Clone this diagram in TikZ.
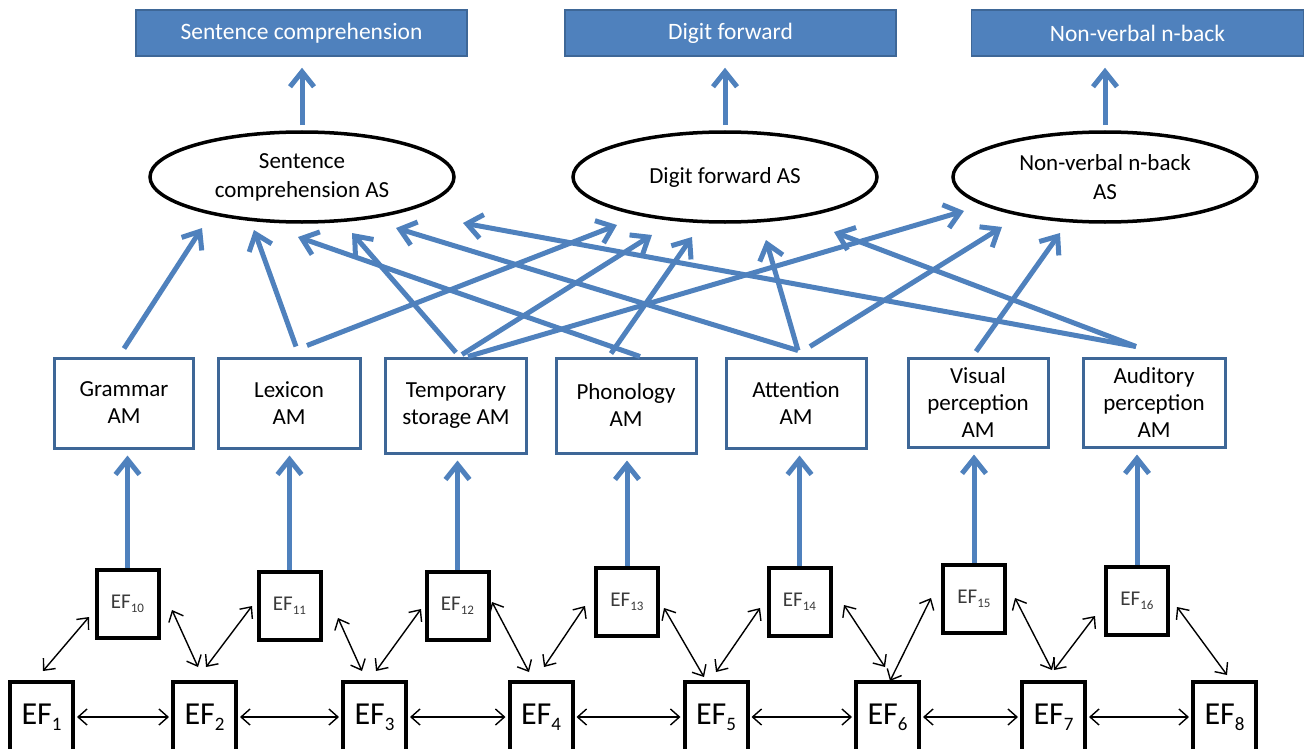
\documentclass[tikz,border=0pt]{standalone}
\usepackage{fontspec}
\setmainfont{Carlito}
\usetikzlibrary{arrows.meta,calc,shapes.geometric}

\definecolor{offblue}{HTML}{4F81BD}
\definecolor{edgeblue}{HTML}{3E6797}
\definecolor{efgray}{HTML}{3A3A3A}

% subscripted factor labels
\newcommand{\eflow}[1]{EF\raisebox{-6pt}{\fontsize{19}{19}\selectfont #1}}
\newcommand{\efup}[1]{EF\raisebox{-4pt}{\fontsize{13}{13}\selectfont #1}}

\tikzset{
  task/.style={draw=edgeblue, line width=1.5pt, fill=offblue, text=white,
    minimum width=331pt, minimum height=46pt, inner sep=0pt,
    font=\fontsize{23.5}{28}\selectfont},
  score/.style={ellipse, draw=black, line width=3.5pt, fill=white,
    minimum width=304pt, minimum height=90pt, inner sep=0pt, align=center,
    font=\fontsize{23}{29}\selectfont},
  module/.style={draw=edgeblue, line width=3pt, fill=white, inner sep=0pt,
    align=center, minimum width=141pt, minimum height=90pt,
    font=\fontsize{23}{27}\selectfont},
  factorup/.style={draw=black, line width=4pt, fill=white, inner sep=0pt,
    minimum width=62pt, minimum height=68pt, text=efgray,
    font=\fontsize{21}{21}\selectfont},
  factorlow/.style={draw=black, line width=4pt, fill=white, inner sep=0pt,
    minimum width=63pt, minimum height=70pt,
    font=\fontsize{32}{32}\selectfont},
  bluelink/.style={draw=offblue, line width=5pt,
    -{Straight Barb[length=15pt,width=24pt]}},
  eflink/.style={draw=black, line width=1.4pt,
    {Straight Barb[length=9pt,width=16pt]}-{Straight Barb[length=9pt,width=16pt]}}
}

\begin{document}
\begin{tikzpicture}[x=1pt,y=1pt]
\useasboundingbox (0,0) rectangle (1306,-749);

% observed tasks
\node[task] (t1) at (301.5,-33) {Sentence comprehension};
\node[task] (t2) at (730.5,-33) {Digit forward};
\node[task, minimum width=332pt] (t3) at (1137.5,-33) {Non-verbal n-back};

% ability scores
\node[score] (e1) at (302,-177) {Sentence\\comprehension AS};
\node[score] (e2) at (725,-177) {Digit forward AS};
\node[score] (e3) at (1105,-177) {Non-verbal n-back\\AS};

% ability modules
\node[module, minimum width=139pt] (gram) at (124,-403) {Grammar\\AM};
\node[module, minimum width=142pt] (lex)  at (289,-403) {Lexicon\\AM};
\node[module, minimum height=95pt] (tmp)  at (456,-405.5) {Temporary\\storage AM};
\node[module, minimum height=95pt, minimum width=140pt] (pho) at (626,-405.5) {Phonology\\AM};
\node[module, minimum width=140pt] (att)  at (796,-403) {Attention\\AM};
\node[module, minimum width=140pt, minimum height=89pt] (vis) at (978,-402.5) {Visual\\perception\\AM};
\node[module, minimum width=142pt, minimum height=89pt] (aud) at (1154,-402.5) {Auditory\\perception\\AM};

% upper row of elementary factors
\node[factorup] (ef10) at (127.5,-604)  {\efup{10}};
\node[factorup] (ef11) at (289.5,-605.5){\efup{11}};
\node[factorup] (ef12) at (457.5,-605.5){\efup{12}};
\node[factorup] (ef13) at (627,-601.5)  {\efup{13}};
\node[factorup] (ef14) at (799.5,-601.5){\efup{14}};
\node[factorup] (ef15) at (974,-598.5)  {\efup{15}};
\node[factorup] (ef16) at (1137,-600.5) {\efup{16}};

% lower row of elementary factors
\node[factorlow] (ef1) at (41.5,-717)   {\eflow{1}};
\node[factorlow] (ef2) at (204.5,-717)  {\eflow{2}};
\node[factorlow] (ef3) at (374.5,-717)  {\eflow{3}};
\node[factorlow] (ef4) at (541,-717)    {\eflow{4}};
\node[factorlow] (ef5) at (716,-717)    {\eflow{5}};
\node[factorlow] (ef6) at (887.5,-717)  {\eflow{6}};
\node[factorlow] (ef7) at (1053.5,-717) {\eflow{7}};
\node[factorlow] (ef8) at (1224.5,-717) {\eflow{8}};

% scores feed the observed tasks
\draw[bluelink, shorten >=11pt] ([yshift=5pt]e1.north) -- (e1.north |- t1.south);
\draw[bluelink, shorten >=11pt] ([yshift=5pt]e2.north) -- (e2.north |- t2.south);
\draw[bluelink, shorten >=11pt] ([yshift=5pt]e3.north) -- (e3.north |- t3.south);

% modules feed the scores
\draw[bluelink] ($(gram.north)+(0,8)$)  -- ($(e1)+(-100,-51)$);
\draw[bluelink] ($(lex.north)+(7,10)$)  -- ($(e1)+(-48,-53)$);
\draw[bluelink] ($(lex.north)+(18,11)$) -- ($(e2)+(-108,-48)$);
\draw[bluelink] ($(tmp.north)+(0,4)$)   -- ($(e1)+(50,-56)$);
\draw[bluelink] ($(tmp.north)+(6,2)$)   -- ($(e2)+(-73,-58)$);
\draw[bluelink] ($(tmp.north)+(12,0)$)  -- ($(e3)+(-141,-34)$);
\draw[bluelink] ($(pho.north)+(14,0)$)  -- ($(e1)+(-4,-60)$);
\draw[bluelink] ($(pho.north)+(-15,3)$) -- ($(e2)+(-33,-60)$);
\draw[bluelink] ($(att.north)+(2,6)$)   -- ($(e1)+(94,-51)$);
\draw[bluelink] ($(att.north)+(2,6)$)   -- ($(e2)+(41,-63)$);
\draw[bluelink] ($(att.north)+(14,10)$) -- ($(e3)+(-103,-50)$);
\draw[bluelink] ($(vis.north)+(-2,5)$)  -- ($(e3)+(-45,-56)$);
\draw[bluelink] ($(aud.north)+(-18,10)$) -- ($(e1)+(161,-46)$);
\draw[bluelink] ($(aud.north)+(-18,10)$) -- ($(e2)+(109,-55)$);

% factors feed the modules
\draw[bluelink, shorten >=6pt] (ef10.north) -- (ef10.north |- gram.south);
\draw[bluelink, shorten >=6pt] (ef11.north) -- (ef11.north |- lex.south);
\draw[bluelink, shorten >=6pt] (ef12.north) -- (ef12.north |- tmp.south);
\draw[bluelink, shorten >=6pt] (ef13.north) -- (ef13.north |- pho.south);
\draw[bluelink, shorten >=6pt] (ef14.north) -- (ef14.north |- att.south);
\draw[bluelink, shorten >=6pt] (ef15.north) -- (ef15.north |- vis.south);
\draw[bluelink, shorten >=6pt] (ef16.north) -- (ef16.north |- aud.south);

% correlations along the lower row
\foreach \a/\b in {ef1/ef2, ef2/ef3, ef3/ef4, ef4/ef5, ef5/ef6, ef6/ef7, ef7/ef8}
  \draw[eflink, shorten <=2pt, shorten >=2pt] (\a) -- (\b);

% correlations between the rows
\draw[eflink] ($(ef1)+(1.5,46)$)    -- ($(ef10)+(-38.5,-13)$);
\draw[eflink] ($(ef10)+(44.5,-6)$)  -- ($(ef2)+(-6.5,50)$);
\draw[eflink] ($(ef2)+(1.5,50)$)    -- ($(ef11)+(-37.5,-0.5)$);
\draw[eflink] ($(ef11)+(48.5,-12.5)$) -- ($(ef3)+(-12.5,46)$);
\draw[eflink] ($(ef3)+(1.5,46)$)    -- ($(ef12)+(-36.5,-3.5)$);
\draw[eflink] ($(ef12)+(34.5,3.5)$) -- ($(ef4)+(-12,45)$);
\draw[eflink] ($(ef4)+(3,50)$)      -- ($(ef13)+(-42,-4.5)$);
\draw[eflink] ($(ef13)+(37,-6.5)$)  -- ($(ef5)+(-12,40)$);
\draw[eflink] ($(ef5)+(0,45)$)      -- ($(ef14)+(-39.5,-6.5)$);
\draw[eflink] ($(ef14)+(44.5,-3.5)$) -- ($(ef6)+(-2.5,50)$);
\draw[eflink] ($(ef6)+(2.5,36)$)    -- ($(ef15)+(-43,0.5)$);
\draw[eflink] ($(ef15)+(41,0.5)$)   -- ($(ef7)+(-1.5,47)$);
\draw[eflink] ($(ef7)+(0.5,47)$)    -- ($(ef16)+(-42,-15.5)$);
\draw[eflink] ($(ef16)+(40,-6.5)$)  -- ($(ef8)+(2.5,42)$);
\end{tikzpicture}
\end{document}
